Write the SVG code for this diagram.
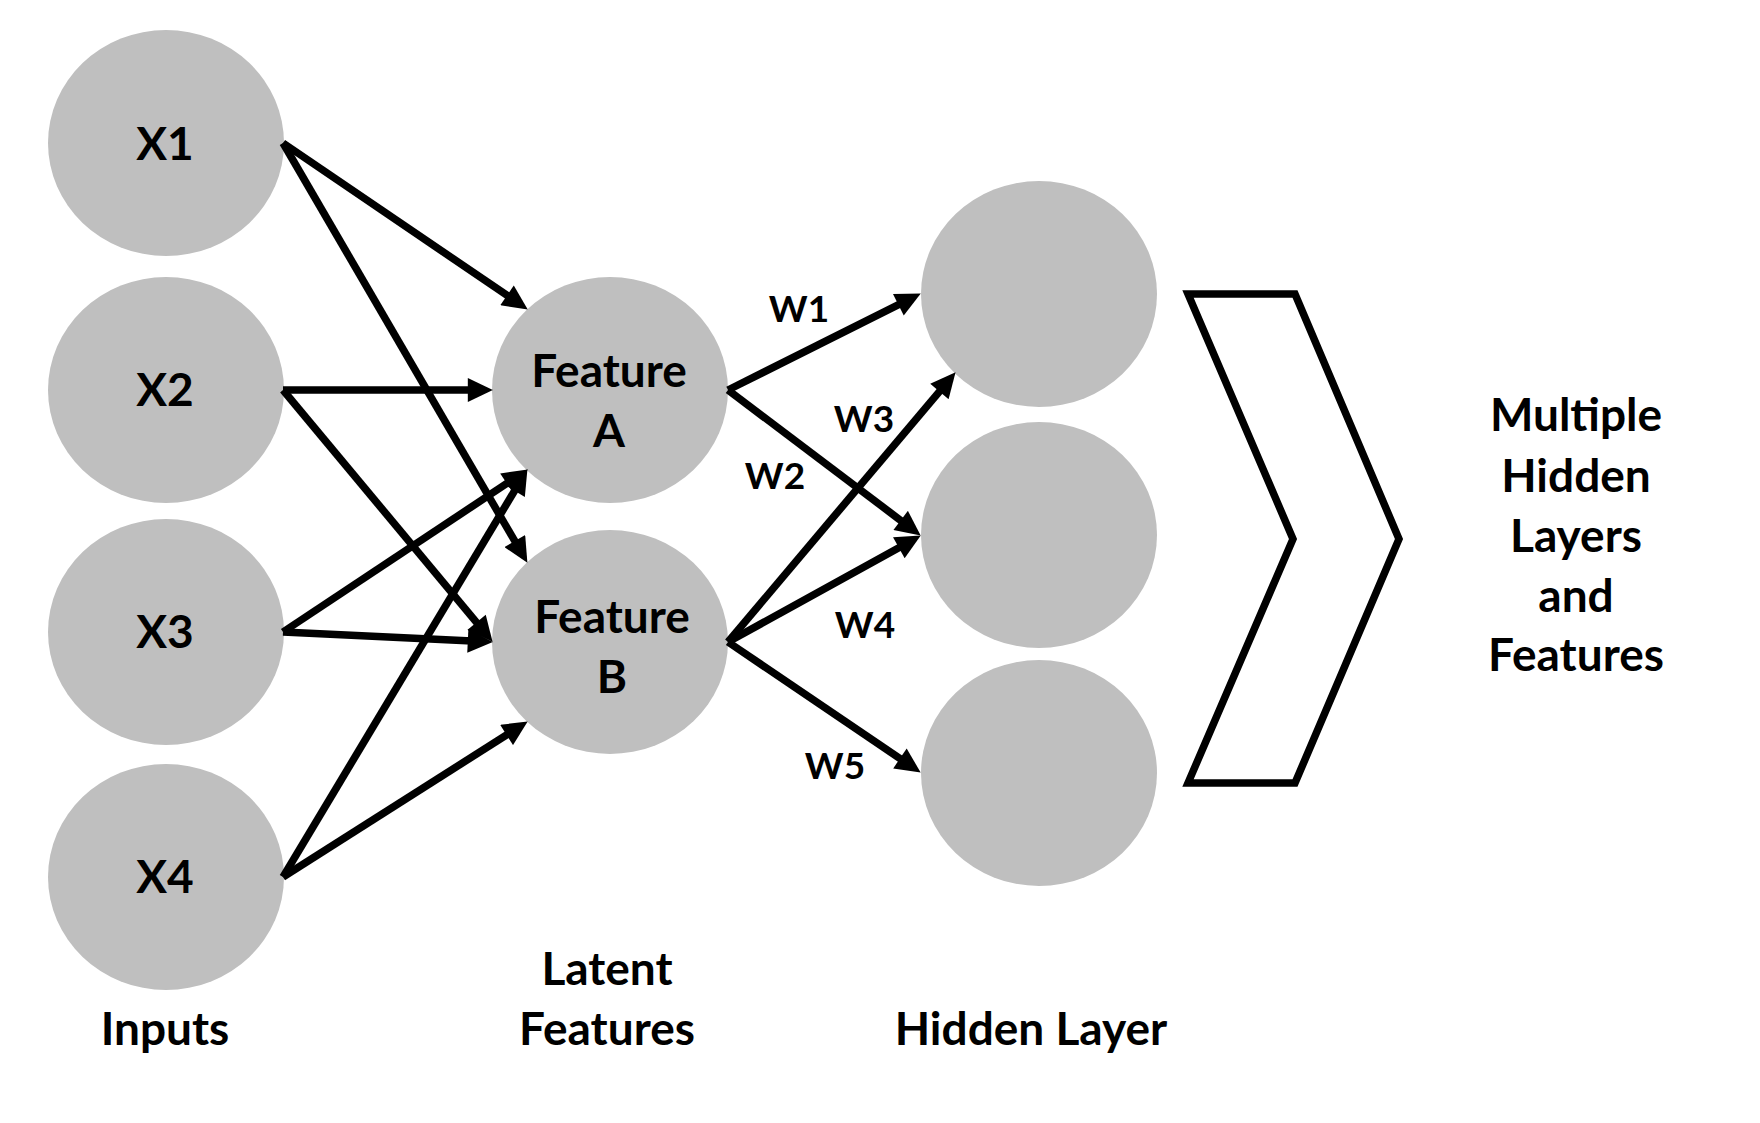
<svg xmlns="http://www.w3.org/2000/svg" width="1760" height="1123" viewBox="0 0 1760 1123">
<style>
.node{fill:#BFBFBF;stroke:none}
.lbl{font-family:Lato,"Liberation Sans",sans-serif;font-weight:700;font-size:46px;fill:#000;text-anchor:middle}
.w{font-family:Lato,"Liberation Sans",sans-serif;font-weight:700;font-size:37px;fill:#000;text-anchor:middle}
.conn line{stroke:#000;stroke-width:7.5;stroke-linecap:butt;marker-end:url(#ah)}
.chev{fill:#fff;stroke:#000;stroke-width:7.5;stroke-linejoin:miter;stroke-miterlimit:10}
</style>
<defs>
<marker id="ah" markerUnits="userSpaceOnUse" markerWidth="26" markerHeight="24" viewBox="0 0 24 23" refX="4" refY="11.5" orient="auto">
<path d="M0,0 L24,11.5 L0,23 z" fill="#000"/>
</marker>
</defs>
<rect width="1760" height="1123" fill="#fff"/>
<g id="x1"><ellipse class="node" cx="166" cy="143" rx="118" ry="113"/><text class="lbl" x="165" y="160">X1</text></g>
<g id="x2"><ellipse class="node" cx="166" cy="390" rx="118" ry="113"/><text class="lbl" x="165" y="406">X2</text></g>
<g id="x3"><ellipse class="node" cx="166" cy="632" rx="118" ry="113"/><text class="lbl" x="165" y="648">X3</text></g>
<g id="x4"><ellipse class="node" cx="166" cy="877" rx="118" ry="113"/><text class="lbl" x="165" y="893">X4</text></g>
<g id="featureA"><ellipse class="node" cx="610" cy="390" rx="118" ry="113"/><text class="lbl" x="609" y="387">Feature</text><text class="lbl" x="609" y="447">A</text></g>
<g id="featureB"><ellipse class="node" cx="610" cy="642" rx="118" ry="112"/><text class="lbl" x="612" y="633">Feature</text><text class="lbl" x="612" y="693">B</text></g>
<g id="h1"><ellipse class="node" cx="1039" cy="294" rx="118" ry="113"/></g>
<g id="h2"><ellipse class="node" cx="1039" cy="535" rx="118" ry="113"/></g>
<g id="h3"><ellipse class="node" cx="1039" cy="773" rx="118" ry="113"/></g>
<g id="connectors" class="conn">
<line x1="283" y1="143" x2="510.5" y2="297.7"/>
<line x1="283" y1="143" x2="516.9" y2="544.7"/>
<line x1="283" y1="390" x2="472" y2="390"/>
<line x1="283" y1="390" x2="479.2" y2="625.6"/>
<line x1="283" y1="632" x2="510.3" y2="481.1"/>
<line x1="283" y1="632" x2="472" y2="641"/>
<line x1="283" y1="877" x2="516.7" y2="487.2"/>
<line x1="283" y1="877" x2="510.1" y2="732.7"/>
<line x1="728" y1="390" x2="902.1" y2="302.9"/>
<line x1="728" y1="390" x2="904" y2="522.9"/>
<line x1="728" y1="642" x2="942.1" y2="388.3"/>
<line x1="728" y1="642" x2="902.5" y2="545.7"/>
<line x1="728" y1="642" x2="903.4" y2="760.8"/>
</g>
<g id="weights">
<text class="w" x="799" y="322">W1</text>
<text class="w" x="864" y="432">W3</text>
<text class="w" x="775" y="489">W2</text>
<text class="w" x="865" y="638">W4</text>
<text class="w" x="835" y="779">W5</text>
</g>
<g id="chevron"><polygon class="chev" points="1188,294 1295,294 1399,539 1295,783 1188,783 1293,539"/></g>
<g id="labels">
<text class="lbl" x="165" y="1045">Inputs</text>
<text class="lbl" x="607" y="985">Latent</text>
<text class="lbl" x="607" y="1045">Features</text>
<text class="lbl" x="1031" y="1045">Hidden Layer</text>
<text class="lbl" x="1576" y="431">Multiple</text>
<text class="lbl" x="1576" y="492">Hidden</text>
<text class="lbl" x="1576" y="552">Layers</text>
<text class="lbl" x="1576" y="612">and</text>
<text class="lbl" x="1576" y="671">Features</text>
</g>
</svg>
